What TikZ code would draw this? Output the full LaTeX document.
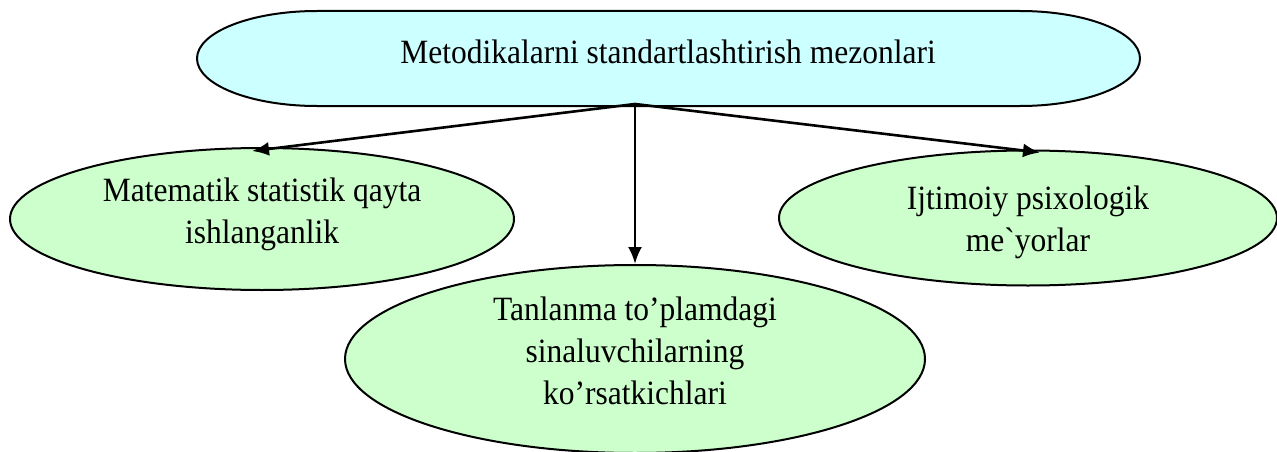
\documentclass[tikz,border=0pt]{standalone}
\usepackage{fontspec}
\setmainfont{Liberation Serif}[Ligatures=TeXOff]
\usetikzlibrary{shapes.geometric,arrows.meta}
\definecolor{topfill}{HTML}{CCFFFF}
\definecolor{ellfill}{HTML}{CCFFCC}
\newcommand{\tall}[1]{\scalebox{1}[1.08]{#1}}
\begin{document}
\begin{tikzpicture}[x=1pt,y=1pt,
  lbl/.style={font=\fontsize{31.5}{42}\selectfont,align=center,inner sep=0pt},
  ell/.style={ellipse,draw,line width=2pt,fill=ellfill,inner sep=0pt},
  conn/.style={line width=2.6pt,-{Latex[length=17pt,width=14pt]}}]
\useasboundingbox (0,0) rectangle (1277,-452);
\fill[white] (0,0) rectangle (1277,-452);
\draw[line width=2pt,fill=topfill] (317,-11) -- (1020,-11)
  arc[start angle=90,end angle=-90,x radius=120,y radius=47.5]
  -- (317,-106)
  arc[start angle=270,end angle=90,x radius=120,y radius=47.5] -- cycle;
\node[lbl] (top) at (668,-52) {\tall{Metodikalarni standartlashtirish mezonlari}};
\coordinate (hub) at (635,-104);
\node[ell,minimum width=504pt,minimum height=142pt] (left) at (262,-219) {};
\node[ell,minimum width=498pt,minimum height=135pt] (right) at (1028,-218) {};
\node[ell,minimum width=580pt,minimum height=188pt] (mid) at (635,-359) {};
\node[lbl] (lefttext) at ([yshift=5pt]left.center) {\tall{Matematik statistik qayta}\\\tall{ishlanganlik}};
\node[lbl] (righttext) at ([yshift=-4pt]right.center) {\tall{Ijtimoiy psixologik}\\\tall{me`yorlar}};
\node[lbl] (midtext) at ([yshift=8pt]mid.center) {\tall{Tanlanma to’plamdagi}\\\tall{sinaluvchilarning}\\\tall{ko’rsatkichlari}};
\draw[conn] (hub) -- ([xshift=-10pt,yshift=-4pt]left.north);
\draw[conn] (hub) -- (mid.north);
\draw[conn] (hub) -- ([xshift=12pt,yshift=-3pt]right.north);
\end{tikzpicture}
\end{document}
